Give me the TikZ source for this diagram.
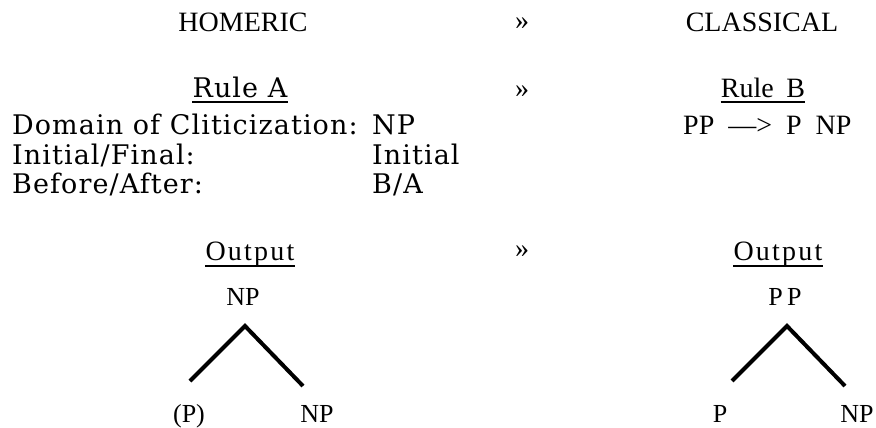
\documentclass[tikz,border=0pt]{standalone}
\usepackage{fontspec}
\setmainfont{Liberation Serif}
\newfontfamily\rulefont[LetterSpace=4]{DejaVu Serif}
\newfontfamily\spacedfont[LetterSpace=8]{Liberation Serif}
\usetikzlibrary{calc}
\tikzset{
  heading/.style={anchor=base, inner sep=0pt, font=\fontsize{28}{30}\selectfont},
  guillemet/.style={anchor=base, inner sep=0pt, font=\fontsize{28}{30}\selectfont},
  rulehead/.style={anchor=base, inner sep=0pt, font=\rulefont\fontsize{27}{30}\selectfont},
  rowlabel/.style={anchor=base west, inner sep=0pt, font=\rulefont\fontsize{27}{30}\selectfont},
  outhead/.style={anchor=base, inner sep=0pt, font=\spacedfont\fontsize{28}{30}\selectfont},
  treelabel/.style={anchor=base, inner sep=0pt, font=\fontsize{26}{28}\selectfont},
  branch/.style={line width=4pt},
  underline/.style={line width=1.4pt}
}
\newcommand{\UnderLine}[2]{%
  % #1 node name, #2 depth below the base line
  \draw[underline] ([yshift=-#2]#1.base west) -- ([yshift=-#2]#1.base east);
}
\newcommand{\OutputTree}[7]{%
  % #1 x of apex, #2 root, #3 left leaf, #4 left dx, #5 right leaf, #6 right dx, #7 name prefix
  \begin{scope}[shift={(#1,0)}]
    \node[treelabel] (#7root) at (-2,305) {#2};
    \node[treelabel] (#7left) at (#4,422) {#3};
    \node[treelabel] (#7right) at (#6,422) {#5};
    \coordinate (#7apex) at (0,326);
    \coordinate (#7leftend) at (-55,381);
    \coordinate (#7rightend) at (58,386);
    \draw[branch] (#7leftend) -- (#7apex) -- (#7rightend);
  \end{scope}
}
\begin{document}
\begin{tikzpicture}[x=1pt,y=-1pt]
  \useasboundingbox (0,0) rectangle (876,428);

  % =======================
  % Row 1 (periods)
  % =======================
  \node[heading] (homeric) at (243,32) {HOMERIC};
  \node[guillemet] (gtA) at (522,30) {»};
  \node[heading] (classical) at (762,32) {CLASSICAL};

  % =======================
  % Row 2 (rules)
  % =======================
  \node[rulehead] (ruleA) at (240,98) {Rule A};
  \node[guillemet] (gtB) at (522,97) {»};
  \node[heading] (ruleB) at (763,98) {Rule\hspace{0.45em}B};
  \UnderLine{ruleA}{4pt}
  \UnderLine{ruleB}{4pt}

  \node[rowlabel] (domain) at (12,134) {Domain of Cliticization:};
  \node[rowlabel] (domainval) at (372,134) {NP};
  \node[rowlabel] (initial) at (12,164) {Initial/Final:};
  \node[rowlabel] (initialval) at (372,164) {Initial};
  \node[rowlabel] (before) at (12,193) {Before/After:};
  \node[rowlabel] (beforeval) at (372,193) {B/A};
  \node[heading, anchor=base west] (rewrite) at (683,134) {PP\ \ —>\ \ P\ \ NP};

  % =======================
  % Row 3 (output trees)
  % =======================
  \node[outhead] (outA) at (250,260) {Output};
  \node[guillemet] (gtC) at (522,257) {»};
  \node[outhead] (outB) at (778,260) {Output};
  \UnderLine{outA}{6pt}
  \UnderLine{outB}{6pt}

  \OutputTree{245}{NP}{(P)}{-56}{NP}{72}{tl}
  \OutputTree{787}{P\,P}{P}{-67}{NP}{70}{tr}

\end{tikzpicture}
\end{document}
